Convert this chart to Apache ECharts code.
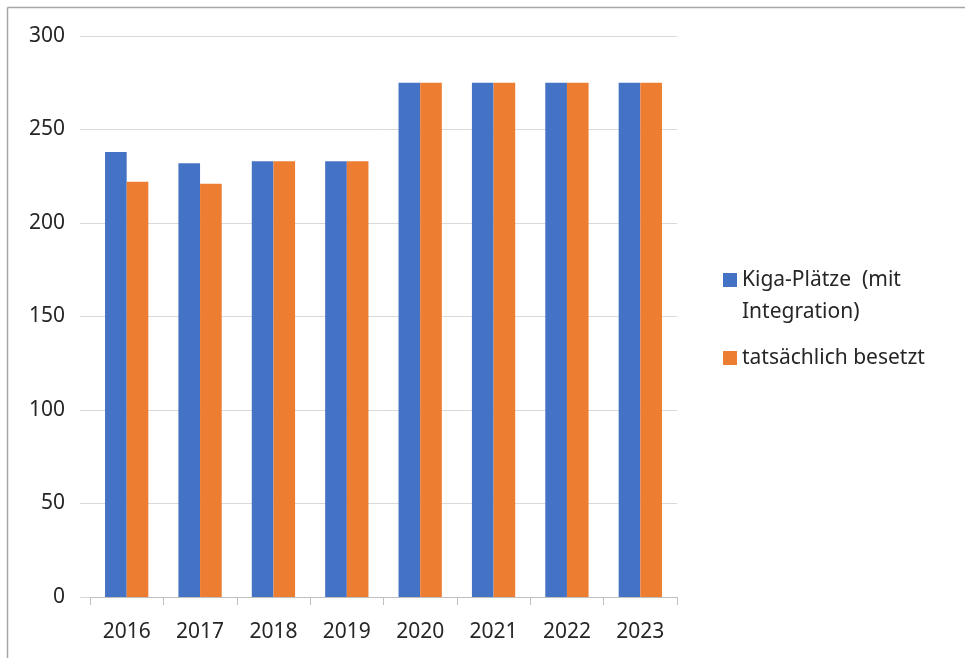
<!DOCTYPE html>
<html>
<head>
<meta charset="utf-8">
<script src="https://cdn.jsdelivr.net/npm/echarts@6/dist/echarts.min.js"></script>
<style>html,body{margin:0;padding:0;background:#fff}#c{width:965px;height:658px}</style>
</head>
<body>
<div id="c"></div>
<script>
const categories = ['2016','2017','2018','2019','2020','2021','2022','2023'];
const seriesNames = ['Kiga-Plätze  (mit Integration)', 'tatsächlich besetzt'];
const plaetze = [238, 232, 233, 233, 275, 275, 275, 275];
const besetzt = [222, 221, 233, 233, 275, 275, 275, 275];
const yTicks = { min: 0, max: 300, interval: 50 };

const chart = echarts.init(document.getElementById('c'));
const font = 'Noto Sans';
chart.setOption({
  animation: false,
  backgroundColor: '#fff',
  graphic: [
    { type: 'line', shape: { x1: 7.5, y1: 7.5, x2: 965, y2: 7.5 }, style: { stroke: '#a6a6a6', lineWidth: 1.5 } },
    { type: 'line', shape: { x1: 7.5, y1: 7.5, x2: 7.5, y2: 658 }, style: { stroke: '#a6a6a6', lineWidth: 1.5 } }
  ],
  grid: { left: 90, top: 36, width: 587, height: 561, containLabel: false },
  legend: {
    orient: 'vertical',
    left: 718,
    top: 227,
    itemWidth: 14,
    itemHeight: 14,
    itemGap: 14,
    icon: 'rect',
    formatter: function (name) {
      if (name.indexOf('Integration') >= 0) return '\n' + 'Kiga-Plätze  (mit' + '\n' + 'Integration)';
      return name;
    },
    textStyle: { fontFamily: font, fontSize: 21, color: '#262626', lineHeight: 32 },
    data: seriesNames
  },
  xAxis: {
    type: 'category',
    data: categories,
    axisLine: { lineStyle: { color: '#bfbfbf', width: 1 } },
    axisTick: { show: true, length: 8, alignWithLabel: false, lineStyle: { color: '#bfbfbf' } },
    axisLabel: { fontFamily: font, fontSize: 21, color: '#262626', margin: 25 }
  },
  yAxis: {
    type: 'value',
    min: yTicks.min, max: yTicks.max, interval: yTicks.interval,
    axisLine: { show: false },
    axisTick: { show: true, length: 10, lineStyle: { color: '#d9d9d9' } },
    splitLine: { lineStyle: { color: '#d9d9d9', width: 1 } },
    axisLabel: { fontFamily: font, fontSize: 21, color: '#262626', margin: 25 }
  },
  series: [
    { name: seriesNames[0], type: 'bar', data: plaetze, barGap: '0%', barCategoryGap: '41%',
      itemStyle: { color: '#4472c4' } },
    { name: seriesNames[1], type: 'bar', data: besetzt,
      itemStyle: { color: '#ed7d31' } }
  ]
});
</script>
</body>
</html>
